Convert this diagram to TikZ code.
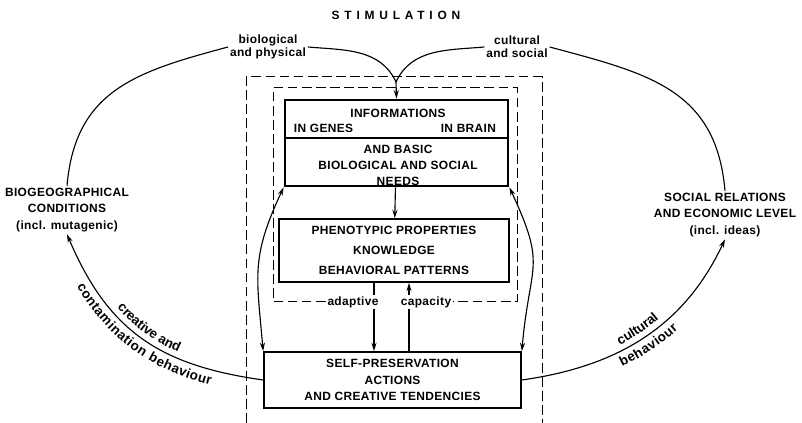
\documentclass[tikz,border=0pt]{standalone}
\usepackage{fontspec}
\setmainfont{Liberation Sans}[LetterSpace=3]
\newfontfamily\widefont{Liberation Sans}[LetterSpace=40]
\usetikzlibrary{arrows.meta,decorations.text}

\newcommand\arcfont{\fontsize{9.5}{10}\selectfont\bfseries}

\begin{document}
\begin{tikzpicture}[line width=0.8pt, >={Stealth[length=6pt,width=3.6pt]}]

\tikzstyle{every node} = [inner sep=1pt, font=\fontsize{8.5}{12}\selectfont\bfseries]
\tikzstyle{box} = [rectangle, draw, line width=1.2pt, align=center]
\tikzstyle{frame} = [dash pattern=on 7pt off 3pt, line width=0.7pt]
\tikzstyle{lbl} = [align=center, font=\fontsize{8.5}{9.5}\selectfont\bfseries]

\useasboundingbox (0,0) rectangle (20.05,10.575);

\node[font=\widefont\fontsize{8.5}{10}\selectfont\bfseries] (stim) at (9.9,10.2) {STIMULATION};
\node[lbl] (bio) at (6.7,9.4) {biological\\and physical};
\node[lbl] (cult) at (12.925,9.4) {cultural\\and social};

\node[box, line width=2pt, minimum width=5.575cm, minimum height=2.15cm] (info) at (9.9125,7.0) {};
\node (infoA) at (9.95,7.75) {INFORMATIONS};
\node[anchor=west] (genes) at (7.3,7.375) {IN GENES};
\node[anchor=east] (brain) at (12.45,7.375) {IN BRAIN};
\node[align=center, font=\fontsize{8.5}{11.4}\selectfont\bfseries] (needs) at (9.95,6.45) {AND BASIC\\BIOLOGICAL AND SOCIAL\\NEEDS};
\draw (info.west |- 0,7.125) -- (info.east |- 0,7.125);

\node[box, minimum width=5.75cm, minimum height=1.575cm, font=\fontsize{8.5}{14}\selectfont\bfseries] (pheno) at (9.85,4.3125) {PHENOTYPIC PROPERTIES\\KNOWLEDGE\\BEHAVIORAL PATTERNS};
\node[box, minimum width=6.425cm, minimum height=1.4cm, font=\fontsize{8.5}{11.7}\selectfont\bfseries] (self) at (9.8125,1.075) {SELF-PRESERVATION\\ACTIONS\\AND CREATIVE TENDENCIES};

\node[align=center] (geo) at (1.675,5.325) {BIOGEOGRAPHICAL\\CONDITIONS\\(incl. mutagenic)};
\node[align=center] (soc) at (18.125,5.2) {SOCIAL RELATIONS\\AND ECONOMIC LEVEL\\(incl. ideas)};

% stimulation
\coordinate (meet) at (9.9,8.525);
\draw (bio.east) to[out=-5,in=115] (meet);
\draw (cult.west) to[out=185,in=65] (meet);
\draw[->] (meet) -- (info.north);
\draw (bio.west) to[out=195,in=85,looseness=1.15] (geo.north);
\draw (cult.east) to[out=-15,in=95,looseness=1.15] (soc.north);

% inside
\draw[->] (info) -- (pheno);
\draw[<->] (info.south west) to[out=245,in=95,looseness=1.2] (self.north west);
\draw[<->] (info.south east) to[out=-65,in=85,looseness=1.4] (self.north east);
\draw[->] ([xshift=-5mm]pheno.south) -- ([xshift=-5mm]pheno.south |- self.north);
\draw[->] ([xshift=3.75mm]pheno.south |- self.north) -- ([xshift=3.75mm]pheno.south);

\node[fill=white, lbl] (adapt) at (8.825,3.025) {adaptive};
\node[fill=white, lbl] (capac) at (10.65,3.025) {capacity};

\draw[frame] (adapt.west) -| (6.825,8.375) -| (12.925,3.025) -- (capac.east);
\draw[frame] (6.15,0) |- (13.55,8.65) -- (13.55,0);

% behaviour
\draw[<-, postaction={decorate, decoration={text along path, text align=center, raise=4pt, text={|\arcfont|creative and}}},
  postaction={decorate, decoration={text along path, text align=center, raise=-10.5pt, text={|\arcfont|contamination behaviour}}}]
  (geo.south) to[out=-67,in=172,looseness=1.1] (self.west);
\draw[->, postaction={decorate, decoration={text along path, text align=center, raise=4pt, text={|\arcfont|cultural}}},
  postaction={decorate, decoration={text along path, text align=center, raise=-10.5pt, text={|\arcfont|behaviour}}}]
  (self.east) to[out=8,in=245] (soc.south);
\end{tikzpicture}
\end{document}
